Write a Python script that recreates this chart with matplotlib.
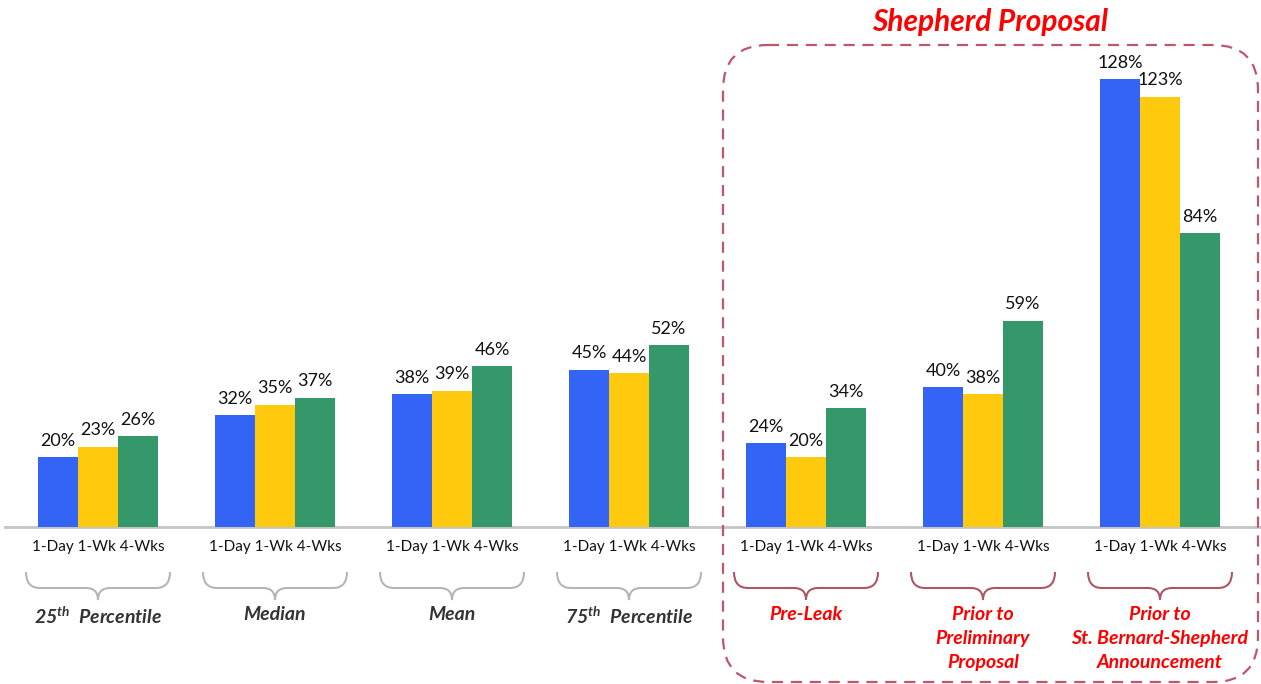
import matplotlib.pyplot as plt
from matplotlib.patches import FancyBboxPatch, PathPatch
from matplotlib.path import Path

groups = ['25th Percentile', 'Median', 'Mean', '75th Percentile',
          'Pre-Leak', 'Prior to\nPreliminary\nProposal',
          'Prior to\nSt. Bernard-Shepherd\nAnnouncement']
periods = ['1-Day', '1-Wk', '4-Wks']
one_day = [20, 32, 38, 45, 24, 40, 128]
one_wk = [23, 35, 39, 44, 20, 38, 123]
four_wks = [26, 37, 46, 52, 34, 59, 84]
colors = ['#3464f6', '#ffc90e', '#35986a']

W, H = 1261, 684
plt.rcParams['font.family'] = ['Lato', 'DejaVu Sans']
plt.rcParams['mathtext.fontset'] = 'custom'
plt.rcParams['mathtext.it'] = 'Lato:bold:italic'
plt.rcParams['mathtext.rm'] = 'Lato:bold:italic'

fig = plt.figure(figsize=(W / 100, H / 100), dpi=100)

# data axes covering the whole figure: group i centred at px 98 + 177*i,
# baseline at px 527 from top, 3.5 px per percent
ax = fig.add_axes([0, 0, 1, 1])
ax.set_xlim(-98 / 177, (W - 98) / 177)
ax.set_ylim(-(H - 527) / 3.5, 527 / 3.5)
ax.axis('off')

bw = 40 / 177
series = [one_day, one_wk, four_wks]
for k, vals in enumerate(series):
    xs = [i + (k - 1) * bw for i in range(len(groups))]
    ax.bar(xs, vals, width=bw, color=colors[k], zorder=2)
    for x, v in zip(xs, vals):
        ax.text(x, v + 2.3, f'{v}%', ha='center', va='bottom', fontsize=13,
                color='#111111')

for i in range(len(groups)):
    ax.text(i, -5.8, ' '.join(periods), ha='center', va='center',
            fontsize=11, color='#111111')

ax.plot([-93 / 177, ax.get_xlim()[1]], [0, 0], color='#c4c4c4', lw=2, zorder=1)

# overlay in pixel coordinates for braces, box and title
ov = fig.add_axes([0, 0, 1, 1])
ov.set_xlim(0, W)
ov.set_ylim(H, 0)
ov.axis('off')
ov.patch.set_alpha(0)


def brace(cx, color):
    hw = 72
    verts = [(cx - hw, 572), (cx - hw, 588), (cx - hw + 14, 588),
             (cx - 12, 588), (cx, 588), (cx, 600),
             (cx, 588), (cx + 12, 588),
             (cx + hw - 14, 588), (cx + hw, 588), (cx + hw, 572)]
    codes = [Path.MOVETO, Path.CURVE3, Path.CURVE3,
             Path.LINETO, Path.CURVE3, Path.CURVE3,
             Path.CURVE3, Path.CURVE3,
             Path.LINETO, Path.CURVE3, Path.CURVE3]
    ov.add_patch(PathPatch(Path(verts, codes), fill=False, edgecolor=color,
                           lw=1.5))


for i, name in enumerate(groups):
    cx = 98 + 177 * i
    right = i >= 4
    brace(cx, '#b05565' if right else '#b5b5b5')
    if name.endswith('Percentile'):
        name = name[:2] + '$^{th}$  ' + name[5:]
    ov.text(cx, 606, name, ha='center', va='top', fontsize=14,
            fontweight='bold', fontstyle='italic', linespacing=1.5,
            color='#ff0000' if right else '#333333')

box = FancyBboxPatch((723, 45), 535, 637,
                     boxstyle='round,pad=0,rounding_size=45',
                     fill=False, edgecolor='#c0566a', lw=1.6,
                     linestyle=(0, (5, 3.5)))
ov.add_patch(box)
ov.text(990, 22, 'Shepherd Proposal', ha='center', va='center', fontsize=21.5,
        fontweight='bold', fontstyle='italic', color='#ff0000')

fig.savefig('out.png', dpi=100)
